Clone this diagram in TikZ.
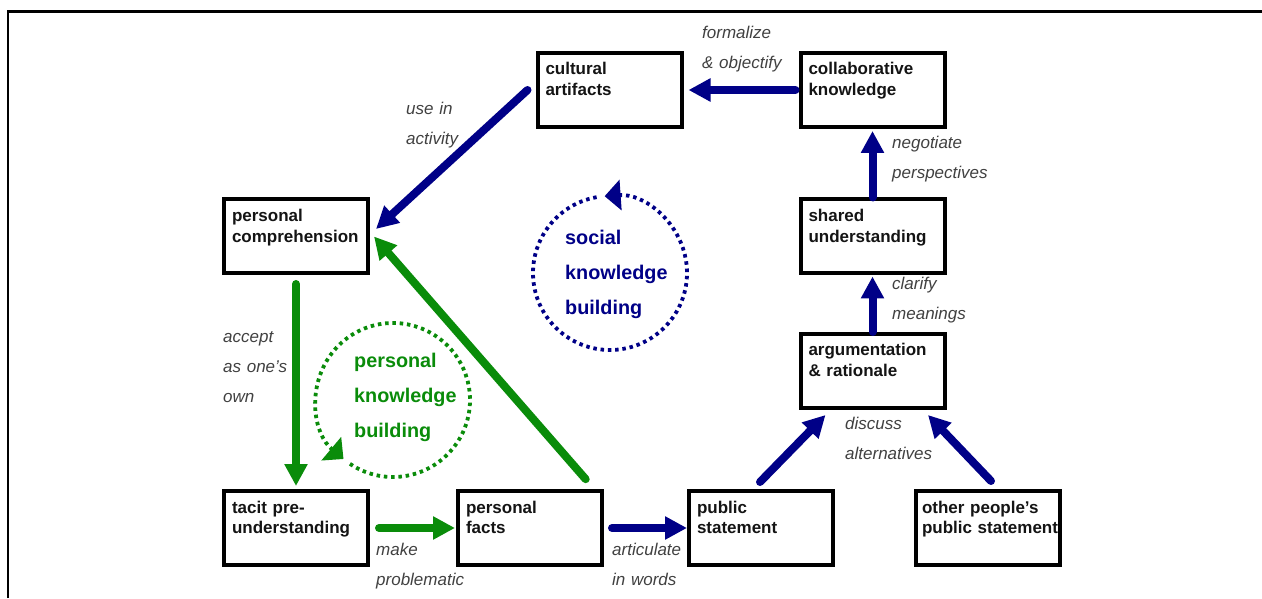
\documentclass[tikz,border=0pt]{standalone}
\usepackage{fontspec}
\setmainfont{Liberation Sans}
\usetikzlibrary{arrows.meta,calc}
\definecolor{kbblue}{RGB}{0,0,135}
\definecolor{kbgreen}{RGB}{10,140,10}
\definecolor{lblgray}{RGB}{65,65,65}
\definecolor{boxtext}{RGB}{20,20,20}
\begin{document}
\begin{tikzpicture}[x=1pt,y=1pt,
  box/.style={draw=black, line width=4pt, minimum width=144pt, minimum height=74pt, inner sep=0pt,
    text width=128pt, align=left, text height=0pt, text depth=30pt,
    font=\fontsize{17}{21}\selectfont\bfseries, text=boxtext},
  lbl/.style={anchor=base west, inner sep=0pt, text width=110pt, align=left,
    font=\fontsize{17}{30}\selectfont\itshape, text=lblgray},
  cyctext/.style={anchor=base west, inner sep=0pt, text width=130pt, align=left,
    font=\fontsize{19.8}{35}\selectfont\bfseries},
  flow/.style={line width=8pt, line cap=round, -{Triangle[length=22pt,width=22pt]}},
  cyc/.style={line width=3.8pt, dash pattern=on 3.5pt off 3.8pt, -{Triangle[length=16pt,width=30pt]}},
]
\useasboundingbox (0,0) rectangle (1262,598);
\fill[white] (0,0) rectangle (1262,598);
% frame
\draw[line width=2.7pt] (8,0) -- (8,586.7) -- (1262,586.7);

% boxes
\node[box] (pc) at (296,361.5) {\mbox{personal}\\\mbox{comprehension}};
\node[box] (ca) at (609.5,508) {cultural\\artifacts};
\node[box] (ck) at (872.5,508) {collaborative\\knowledge};
\node[box] (su) at (872.5,361.5) {shared\\understanding};
\node[box] (ar) at (872.5,227) {argumentation\\\& rationale};
\node[box] (tp) at (296,70) {tacit pre-\\understanding};
\node[box] (pf) at (530,70) {personal\\facts};
\node[box] (ps) at (761,70) {public\\statement};
\node[box, text width=132pt] (op) at (988,70) {\mbox{other people's}\\\mbox{public statement}};

% cycles
\coordinate (sc) at (610,325);
\draw[cyc, kbblue] ($(sc)+(100:77)$) arc[start angle=100, end angle=454, radius=77];
\coordinate (pcc) at (393,198);
\draw[cyc, kbgreen] ($(pcc)+(236:77)$) arc[start angle=236, end angle=590, radius=77];
\node[cyctext, text=kbblue] (skb) at (565,353) {social\\knowledge\\building};
\node[cyctext, text=kbgreen] (pkb) at (354,230) {personal\\knowledge\\building};

% connectors
\draw[flow, kbblue, shorten <=3pt, shorten >=5pt] (ck.west) -- (ca.east);
\draw[flow, kbblue] ($(ca.west)+(-8,0)$) -- ($(pc.east)+(6,7.5)$);
\draw[flow, kbblue, shorten >=2pt] (su.north) -- (ck.south);
\draw[flow, kbblue, shorten >=1pt] (ar.north) -- (su.south);
\draw[flow, kbblue] ($(ps.north)+(-1,7)$) -- ($(ar.south)+(-47,-5)$);
\draw[flow, kbblue] ($(op.north)+(3,8)$) -- ($(ar.south)+(55.5,-5)$);
\draw[flow, kbblue, shorten <=8pt] (pf.east) -- (ps.west);
\draw[flow, kbgreen, shorten <=9pt, shorten >=1pt] (tp.east) -- (pf.west);
\draw[flow, kbgreen, shorten <=8.5pt, shorten >=3pt] (pc.south) -- (tp.north);
\draw[flow, kbgreen] ($(pf.north)+(55.7,9.8)$) -- ($(pc.east)+(4,0)$);

% labels
\node[lbl] (l1) at (702,559) {formalize\\\& objectify};
\node[lbl] (l2) at (406,483) {use in\\activity};
\node[lbl] (l3) at (892,449) {negotiate\\perspectives};
\node[lbl] (l4) at (892,308) {clarify\\meanings};
\node[lbl] (l5) at (223,255) {accept\\as one's\\own};
\node[lbl] (l6) at (845,168) {discuss\\alternatives};
\node[lbl] (l7) at (376,43) {make\\problematic};
\node[lbl] (l8) at (612,43) {articulate\\in words};
\end{tikzpicture}
\end{document}
